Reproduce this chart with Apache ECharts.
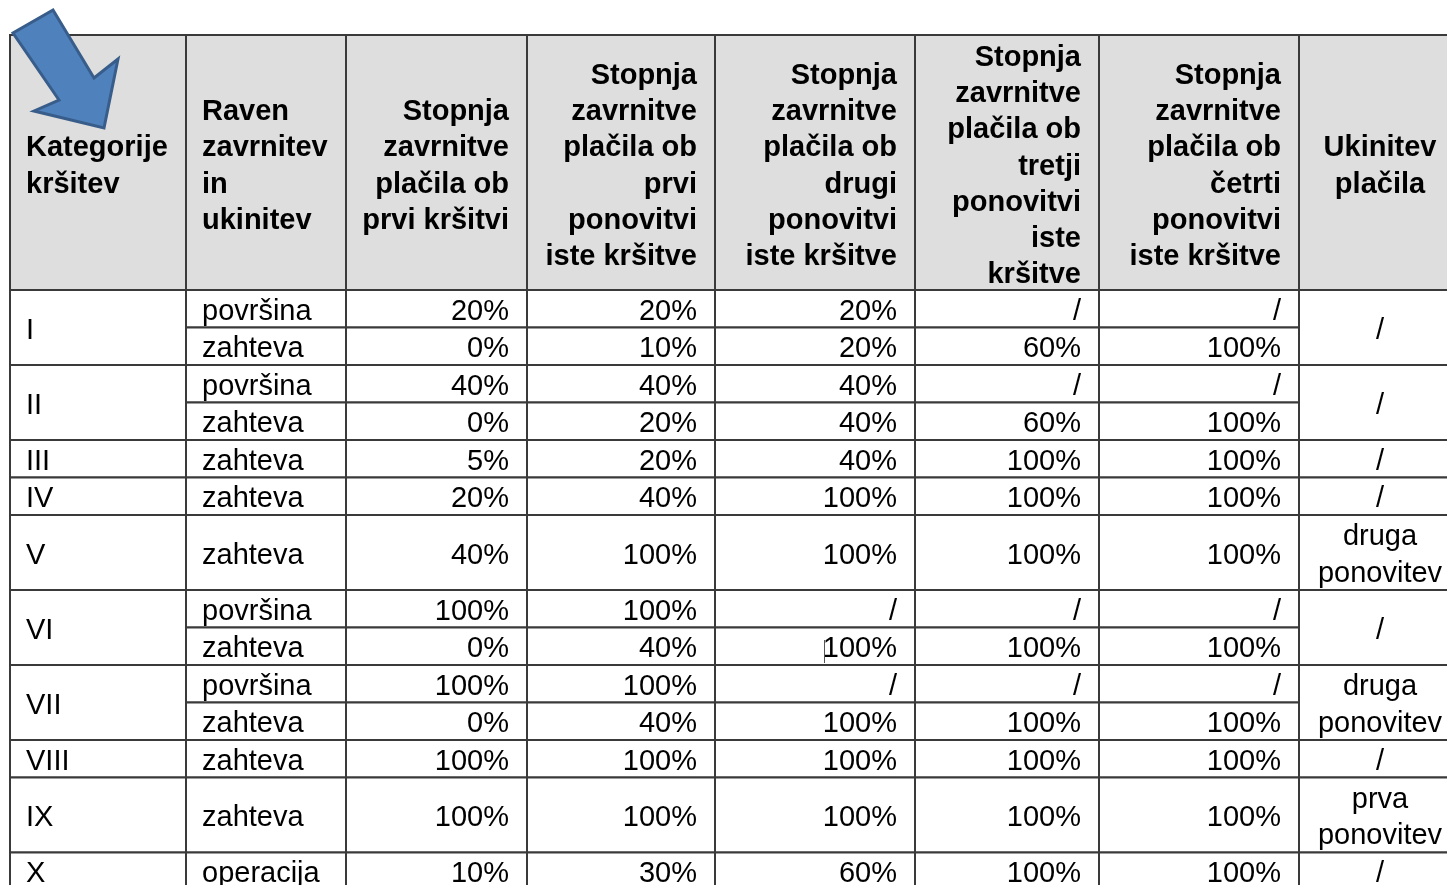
<!DOCTYPE html>
<html>
<head>
  <meta charset="utf-8">
  <title>Kategorije kršitev</title>
  <script src="https://cdn.jsdelivr.net/npm/echarts@6/dist/echarts.min.js"></script>
  <style>
    html, body { margin: 0; padding: 0; background: #fff; }
    #chart1 { width: 1447px; height: 885px; }
  </style>
</head>
<body>
<div id="chart1"></div>
<script type="text/javascript">
  // --- data ---
  const headerLabels = [
    'Kategorije\nkršitev',
    'Raven\nzavrnitev\nin\nukinitev',
    'Stopnja\nzavrnitve\nplačila ob\nprvi kršitvi',
    'Stopnja\nzavrnitve\nplačila ob\nprvi\nponovitvi\niste kršitve',
    'Stopnja\nzavrnitve\nplačila ob\ndrugi\nponovitvi\niste kršitve',
    'Stopnja\nzavrnitve\nplačila ob\ntretji\nponovitvi\niste\nkršitve',
    'Stopnja\nzavrnitve\nplačila ob\nčetrti\nponovitvi\niste kršitve',
    'Ukinitev\nplačila'
  ];
  const categories = ['I', 'II', 'III', 'IV', 'V', 'VI', 'VII', 'VIII', 'IX', 'X'];
  const categoryRowSpan = [2, 2, 1, 1, 1, 2, 2, 1, 1, 1];
  const termination = ['/', '/', '/', '/', 'druga\nponovitev', '/', 'druga\nponovitev', '/', 'prva\nponovitev', '/'];
  const rowLevels = ['površina', 'zahteva', 'površina', 'zahteva', 'zahteva', 'zahteva', 'zahteva',
    'površina', 'zahteva', 'površina', 'zahteva', 'zahteva', 'zahteva', 'operacija'];
  const rowHeightUnits = [1, 1, 1, 1, 1, 1, 2, 1, 1, 1, 1, 1, 2, 1];
  const rateFirst = ['20%', '0%', '40%', '0%', '5%', '20%', '40%', '100%', '0%', '100%', '0%', '100%', '100%', '10%'];
  const rateRep1 = ['20%', '10%', '40%', '20%', '20%', '40%', '100%', '100%', '40%', '100%', '40%', '100%', '100%', '30%'];
  const rateRep2 = ['20%', '20%', '40%', '40%', '40%', '100%', '100%', '/', '100%', '/', '100%', '100%', '100%', '60%'];
  const rateRep3 = ['/', '60%', '/', '60%', '100%', '100%', '100%', '/', '100%', '/', '100%', '100%', '100%', '100%'];
  const rateRep4 = ['/', '100%', '/', '100%', '100%', '100%', '100%', '/', '100%', '/', '100%', '100%', '100%', '100%'];

  // --- layout ---
  const W = 1447, H = 885;
  const colEdges = [10, 186, 346, 527, 715, 915, 1099, 1299, 1461];
  const headerTop = 35, headerBottom = 290, rowUnit = 37.5;
  const rowEdges = [headerBottom];
  rowHeightUnits.forEach(u => rowEdges.push(rowEdges[rowEdges.length - 1] + u * rowUnit));

  const cells = [];
  headerLabels.forEach((t, c) => {
    cells.push({x0: colEdges[c], x1: colEdges[c + 1], y0: headerTop, y1: headerBottom, text: t,
      header: true, align: c < 2 ? 'left' : (c === 7 ? 'center' : 'right')});
  });
  const rateCols = [rateFirst, rateRep1, rateRep2, rateRep3, rateRep4];
  let r = 0;
  categories.forEach((cat, k) => {
    const span = categoryRowSpan[k];
    const y0 = rowEdges[r], y1 = rowEdges[r + span];
    cells.push({x0: colEdges[0], x1: colEdges[1], y0, y1, text: cat, align: 'left'});
    for (let j = r; j < r + span; j++) {
      cells.push({x0: colEdges[1], x1: colEdges[2], y0: rowEdges[j], y1: rowEdges[j + 1], text: rowLevels[j], align: 'left'});
      rateCols.forEach((arr, m) => {
        cells.push({x0: colEdges[2 + m], x1: colEdges[3 + m], y0: rowEdges[j], y1: rowEdges[j + 1], text: arr[j], align: 'right'});
      });
    }
    cells.push({x0: colEdges[7], x1: colEdges[8], y0, y1, text: termination[k], align: 'center'});
    r += span;
  });

  let myChart1 = echarts.init(document.getElementById('chart1'));

  function renderCell(params, api) {
    const c = cells[api.value(4)];
    const p0 = api.coord([api.value(0), api.value(1)]);
    const p1 = api.coord([api.value(2), api.value(3)]);
    const tx = c.align === 'left' ? p0[0] + 16 : (c.align === 'right' ? p1[0] - 18 : (p0[0] + p1[0]) / 2);
    return {
      type: 'group',
      children: [
        {
          type: 'rect',
          shape: {x: p0[0], y: p0[1], width: p1[0] - p0[0], height: p1[1] - p0[1]},
          style: {fill: c.header ? '#dedede' : '#ffffff', stroke: '#3a3a3a', lineWidth: 2}
        },
        {
          type: 'text',
          style: {
            text: c.text, x: tx, y: (p0[1] + p1[1]) / 2 + (c.header ? 4 : 3),
            align: c.align, verticalAlign: 'middle',
            font: (c.header ? 'bold ' : '') + '29px "Liberation Sans", Arial, sans-serif',
            lineHeight: 36.2, fill: '#000'
          }
        }
      ]
    };
  }

  myChart1.setOption({
    animation: false,
    grid: {left: 0, right: 0, top: 0, bottom: 0},
    xAxis: {type: 'value', min: 0, max: W, show: false},
    yAxis: {type: 'value', min: 0, max: H, inverse: true, show: false},
    series: [{
      type: 'custom',
      clip: false,
      renderItem: renderCell,
      data: cells.map((c, i) => [c.x0, c.y0, c.x1, c.y1, i])
    }],
    graphic: [
      {
        // blue arrow pointing at the first column
        type: 'polygon', z: 100,
        shape: {points: [[53, 10], [94, 78], [118, 59], [104, 128], [34, 111], [59, 100], [13, 33]]},
        style: {fill: '#4f81bd', stroke: '#385d8a', lineWidth: 3}
      },
      {
        // text cursor mark in the VI / zahteva cell
        type: 'line', z: 100,
        shape: {x1: 824.5, y1: 640, x2: 824.5, y2: 663},
        style: {stroke: '#555', lineWidth: 1}
      }
    ]
  });
</script>
</body>
</html>
